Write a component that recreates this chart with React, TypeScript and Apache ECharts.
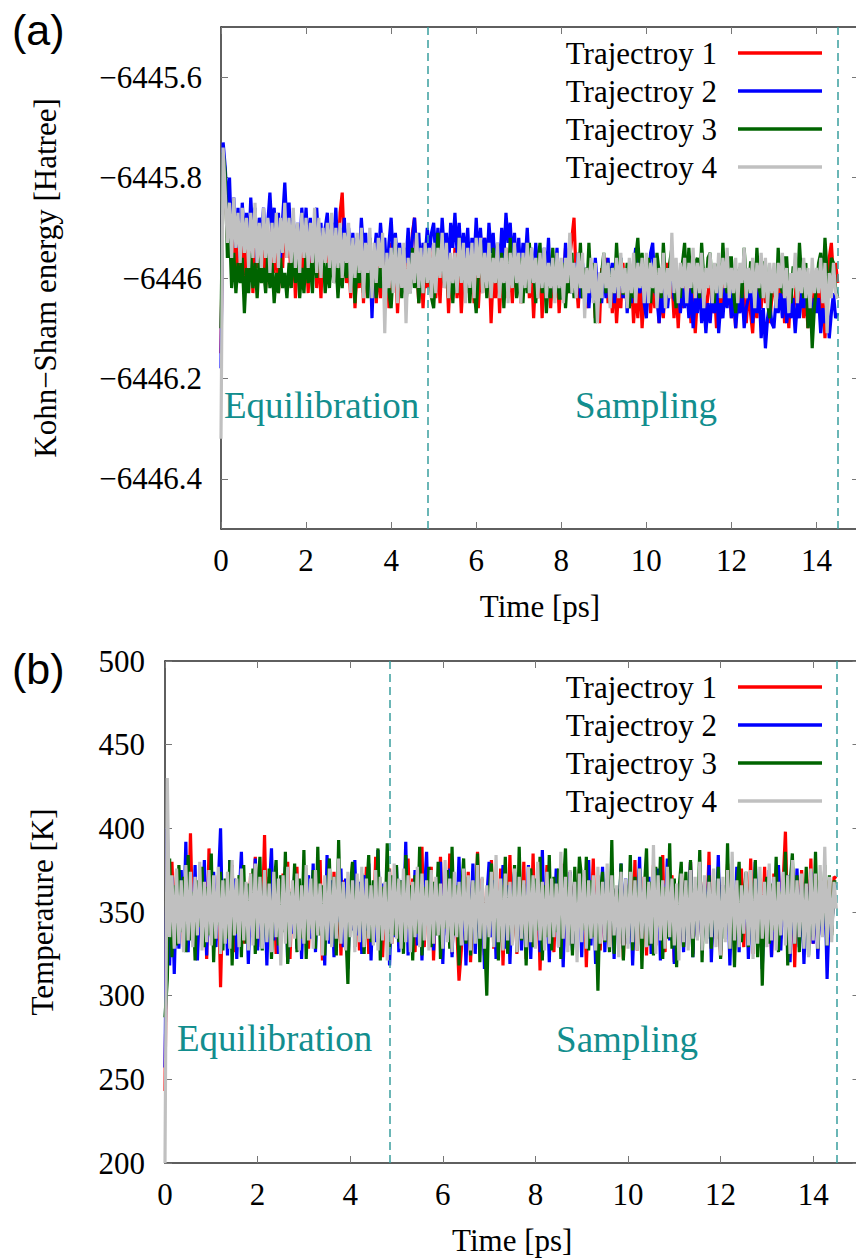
import React, { useEffect, useRef } from "react";
import * as echarts from "echarts";

// ---------------- data ----------------
const TIME_STEP = 0.05; // ps between plotted samples (0 ... 14.5 ps)
const SERIES_NAMES = ["Trajectroy 1", "Trajectroy 2", "Trajectroy 3", "Trajectroy 4"];
const SERIES_COLORS = ["#ff0000", "#0000ff", "#006400", "#c0c0c0"];
const PHASE_BOUNDARIES = [4.85, 14.5];
const TIME_TICKS = [0, 2, 4, 6, 8, 10, 12, 14];
const ENERGY_TICKS = [-6446.4, -6446.2, -6446, -6445.8, -6445.6];

const energy1 = [
  -6446.15, -6445.76, -6445.80, -6445.92, -6445.84, -6445.97, -6445.88, -6446.00, -6445.90, -6445.98,
  -6445.91, -6446.02, -6445.93, -6445.99, -6445.90, -6446.03, -6445.94, -6445.98, -6445.91, -6446.01,
  -6445.93, -6446.02, -6445.92, -6445.97, -6445.88, -6445.99, -6445.91, -6446.03, -6445.94, -6445.98,
  -6445.87, -6445.96, -6445.90, -6446.02, -6445.93, -6446.04, -6445.95, -6445.99, -6445.92, -6446.01,
  -6445.94, -6446.03, -6445.92, -6445.98, -6445.90, -6446.02, -6445.95, -6446.04, -6445.93, -6445.97,
  -6445.91, -6446.00, -6445.93, -6445.98, -6445.89, -6445.96, -6445.87, -6445.83, -6445.94, -6446.01,
  -6445.96, -6446.04, -6445.94, -6446.06, -6445.97, -6446.02, -6445.93, -6446.05, -6445.96, -6446.01,
  -6445.92, -6446.03, -6445.95, -6446.05, -6445.97, -6446.04, -6445.94, -6446.02, -6445.96, -6446.06,
  -6445.93, -6446.01, -6445.96, -6446.07, -6445.98, -6446.03, -6445.95, -6446.04, -6445.94, -6446.00,
  -6445.91, -6445.88, -6445.97, -6446.05, -6445.96, -6446.06, -6445.98, -6446.02, -6445.93, -6446.03,
  -6445.95, -6446.04, -6445.97, -6446.05, -6445.94, -6446.02, -6445.96, -6446.07, -6445.98, -6446.03,
  -6445.94, -6446.04, -6445.97, -6446.07, -6445.99, -6446.03, -6445.93, -6446.02, -6445.96, -6446.05,
  -6445.97, -6446.06, -6445.98, -6446.03, -6445.92, -6446.01, -6445.96, -6446.09, -6445.99, -6446.04,
  -6445.95, -6446.07, -6445.98, -6446.03, -6445.94, -6446.04, -6445.97, -6446.05, -6445.96, -6446.02,
  -6445.95, -6446.05, -6445.97, -6446.02, -6445.93, -6446.04, -6445.98, -6446.08, -6445.99, -6446.04,
  -6445.96, -6446.08, -6445.98, -6446.03, -6445.95, -6446.06, -6445.99, -6446.04, -6445.96, -6446.07,
  -6445.99, -6446.04, -6445.94, -6446.03, -6445.96, -6445.92, -6445.88, -6446.00, -6446.06, -6445.97,
  -6446.04, -6445.98, -6446.06, -6445.97, -6446.03, -6445.99, -6446.08, -6446.01, -6446.09, -6445.98,
  -6446.02, -6445.96, -6446.05, -6445.98, -6446.07, -6446.00, -6446.09, -6446.02, -6446.06, -6445.97,
  -6446.04, -6445.98, -6446.06, -6446.00, -6446.09, -6446.02, -6446.08, -6445.99, -6446.10, -6446.03,
  -6446.05, -6445.98, -6446.07, -6446.01, -6446.06, -6445.99, -6446.09, -6446.03, -6446.08, -6446.00,
  -6445.97, -6446.04, -6446.00, -6446.08, -6446.02, -6446.10, -6446.01, -6446.06, -6445.98, -6446.05,
  -6446.02, -6446.09, -6446.03, -6446.11, -6446.04, -6445.99, -6446.06, -6446.01, -6446.08, -6446.03,
  -6445.99, -6446.07, -6446.02, -6446.10, -6446.04, -6446.08, -6446.00, -6445.97, -6446.05, -6446.02,
  -6446.08, -6446.03, -6446.10, -6446.01, -6446.06, -6445.98, -6446.04, -6446.09, -6446.02, -6446.07,
  -6446.11, -6446.03, -6446.08, -6446.01, -6446.06, -6445.99, -6446.05, -6446.02, -6446.09, -6446.04,
  -6446.00, -6446.06, -6445.98, -6446.04, -6446.01, -6446.09, -6446.03, -6446.10, -6446.02, -6446.07,
  -6446.04, -6445.98, -6446.06, -6446.01, -6446.08, -6446.03, -6446.10, -6446.04, -6446.07, -6446.02,
  -6446.05, -6445.99, -6446.08, -6446.04, -6446.12, -6446.03, -6445.96, -6445.93, -6446.00, -6445.97,
  -6446.01,
];
const energy2 = [
  -6446.18, -6445.73, -6445.78, -6445.86, -6445.80, -6445.93, -6445.84, -6445.94, -6445.86, -6445.96,
  -6445.85, -6445.93, -6445.87, -6445.95, -6445.84, -6445.92, -6445.86, -6445.97, -6445.88, -6445.93,
  -6445.86, -6445.95, -6445.89, -6445.83, -6445.91, -6445.86, -6445.94, -6445.87, -6445.96, -6445.88,
  -6445.81, -6445.90, -6445.85, -6445.94, -6445.88, -6445.97, -6445.89, -6445.95, -6445.86, -6445.93,
  -6445.86, -6445.95, -6445.88, -6445.97, -6445.90, -6445.86, -6445.94, -6445.89, -6445.98, -6445.90,
  -6445.87, -6445.95, -6445.89, -6445.93, -6445.86, -6445.96, -6445.90, -6445.94, -6445.88, -6445.97,
  -6445.90, -6445.98, -6445.91, -6445.99, -6445.92, -6445.96, -6445.88, -6445.95, -6445.91, -6445.99,
  -6445.94, -6446.08, -6445.96, -6445.91, -6445.97, -6445.89, -6445.95, -6445.92, -6446.00, -6445.93,
  -6445.88, -6445.96, -6445.91, -6445.98, -6445.93, -6446.00, -6445.94, -6445.97, -6445.90, -6445.98,
  -6445.92, -6445.88, -6445.96, -6445.91, -6445.99, -6445.93, -6445.96, -6445.90, -6445.95, -6445.91,
  -6445.89, -6445.96, -6445.90, -6445.97, -6445.88, -6445.95, -6445.91, -6445.98, -6445.89, -6445.94,
  -6445.87, -6445.95, -6445.89, -6445.97, -6445.91, -6445.96, -6445.90, -6445.99, -6445.92, -6445.97,
  -6445.88, -6445.96, -6445.90, -6445.97, -6445.92, -6445.98, -6445.89, -6445.95, -6445.91, -6445.99,
  -6445.93, -6445.98, -6445.90, -6445.96, -6445.87, -6445.93, -6445.89, -6445.97, -6445.91, -6445.99,
  -6445.92, -6446.00, -6445.93, -6445.97, -6445.90, -6445.98, -6445.94, -6446.01, -6445.93, -6445.99,
  -6445.95, -6446.02, -6445.94, -6446.00, -6445.92, -6446.03, -6445.96, -6446.01, -6445.94, -6446.03,
  -6445.97, -6446.02, -6445.93, -6446.01, -6445.96, -6446.03, -6445.97, -6446.00, -6445.95, -6446.04,
  -6445.97, -6446.03, -6445.98, -6446.06, -6446.00, -6446.04, -6445.96, -6446.02, -6445.99, -6446.05,
  -6445.98, -6446.04, -6445.96, -6446.02, -6445.97, -6446.05, -6445.99, -6446.03, -6445.96, -6446.04,
  -6445.99, -6446.07, -6446.00, -6446.05, -6445.98, -6445.94, -6446.01, -6446.03, -6445.97, -6446.05,
  -6446.08, -6446.01, -6445.95, -6445.93, -6446.02, -6446.04, -6446.09, -6446.03, -6446.07, -6446.00,
  -6446.06, -6446.01, -6445.98, -6446.04, -6446.05, -6446.00, -6446.07, -6446.02, -6446.06, -6446.01,
  -6446.08, -6446.02, -6446.10, -6446.04, -6446.07, -6446.01, -6446.09, -6446.04, -6446.11, -6446.05,
  -6446.09, -6446.03, -6446.07, -6446.00, -6446.11, -6446.05, -6446.08, -6446.02, -6446.06, -6446.00,
  -6446.08, -6446.03, -6446.10, -6446.05, -6446.07, -6446.02, -6446.10, -6446.06, -6446.04, -6446.01,
  -6446.09, -6446.04, -6446.07, -6446.02, -6446.12, -6446.06, -6446.14, -6446.08, -6446.05, -6446.09,
  -6446.10, -6446.04, -6446.07, -6446.03, -6446.08, -6446.02, -6446.09, -6446.05, -6446.08, -6446.04,
  -6446.11, -6446.05, -6446.08, -6446.03, -6446.06, -6446.00, -6446.08, -6446.03, -6446.10, -6446.04,
  -6446.07, -6446.04, -6446.11, -6446.06, -6446.09, -6446.05, -6446.12, -6446.07, -6446.03, -6446.08,
  -6446.07,
];
const energy3 = [
  -6446.10, -6445.75, -6445.79, -6445.96, -6445.90, -6446.02, -6445.95, -6446.03, -6445.97, -6446.01,
  -6445.96, -6446.07, -6445.98, -6446.03, -6445.95, -6446.02, -6445.97, -6446.04, -6445.96, -6446.01,
  -6445.98, -6446.03, -6445.95, -6446.02, -6445.97, -6446.05, -6445.99, -6446.03, -6445.96, -6446.02,
  -6445.99, -6446.04, -6445.97, -6446.02, -6445.94, -6446.01, -6445.96, -6446.04, -6445.98, -6446.03,
  -6445.95, -6446.01, -6445.97, -6446.03, -6445.93, -6446.00, -6445.91, -6445.98, -6445.95, -6446.03,
  -6445.97, -6446.02, -6445.94, -6446.01, -6445.96, -6446.04, -6445.97, -6446.02, -6445.95, -6446.00,
  -6445.93, -6446.02, -6445.96, -6446.05, -6445.97, -6446.01, -6445.94, -6446.03, -6445.96, -6446.04,
  -6445.92, -6446.01, -6445.95, -6446.04, -6445.98, -6446.02, -6445.96, -6446.05, -6445.99, -6446.03,
  -6446.06, -6445.98, -6445.93, -6446.02, -6445.96, -6446.04, -6445.97, -6446.05, -6445.99, -6446.03,
  -6445.94, -6446.02, -6445.97, -6446.05, -6445.98, -6446.03, -6445.95, -6446.01, -6445.97, -6446.04,
  -6446.06, -6445.98, -6445.91, -6445.99, -6445.93, -6446.01, -6445.96, -6446.04, -6445.97, -6446.05,
  -6445.98, -6446.03, -6445.92, -6446.00, -6445.96, -6446.03, -6445.97, -6446.05, -6445.98, -6446.02,
  -6446.07, -6445.99, -6445.93, -6446.02, -6445.96, -6446.04, -6445.97, -6446.02, -6445.94, -6446.01,
  -6445.96, -6446.02, -6445.95, -6446.06, -6445.98, -6446.03, -6445.92, -6446.01, -6445.97, -6446.04,
  -6446.01, -6445.96, -6446.05, -6445.97, -6446.03, -6445.93, -6446.01, -6445.98, -6446.05, -6445.97,
  -6445.93, -6446.03, -6445.98, -6446.07, -6445.99, -6446.04, -6445.94, -6446.02, -6445.97, -6446.04,
  -6446.04, -6445.97, -6446.06, -6445.99, -6446.03, -6445.95, -6446.04, -6445.98, -6446.02, -6445.93,
  -6446.04, -6445.98, -6446.03, -6445.93, -6446.02, -6445.97, -6446.09, -6446.01, -6446.05, -6445.99,
  -6445.95, -6446.03, -6445.97, -6446.05, -6445.98, -6446.03, -6445.93, -6446.01, -6445.96, -6446.03,
  -6446.03, -6445.97, -6446.06, -6445.99, -6446.04, -6445.96, -6445.92, -6446.00, -6445.95, -6446.02,
  -6446.02, -6445.96, -6446.05, -6445.98, -6446.03, -6445.95, -6445.99, -6446.04, -6445.93, -6446.01,
  -6446.03, -6445.97, -6445.94, -6446.01, -6446.06, -6445.99, -6446.04, -6445.97, -6445.93, -6446.02,
  -6445.94, -6446.01, -6446.03, -6445.97, -6445.96, -6446.04, -6445.93, -6446.00, -6446.02, -6445.96,
  -6445.95, -6446.03, -6446.05, -6445.98, -6445.97, -6446.04, -6445.93, -6446.01, -6446.03, -6445.96,
  -6445.96, -6446.03, -6446.07, -6445.99, -6445.98, -6446.04, -6445.94, -6446.01, -6446.03, -6445.97,
  -6445.97, -6446.04, -6445.94, -6446.02, -6446.04, -6445.97, -6445.97, -6446.05, -6446.08, -6446.00,
  -6445.99, -6446.05, -6445.94, -6446.01, -6446.03, -6445.96, -6445.96, -6446.04, -6446.05, -6445.98,
  -6445.98, -6446.04, -6445.93, -6446.00, -6446.04, -6445.97, -6446.10, -6446.03, -6446.14, -6446.06,
  -6446.02, -6445.97, -6445.95, -6446.02, -6445.92, -6445.99, -6446.03, -6445.96, -6445.97, -6446.02,
  -6446.04,
];
const energy4 = [
  -6446.32, -6445.74, -6445.83, -6445.93, -6445.85, -6445.96, -6445.84, -6445.94, -6445.87, -6445.97,
  -6445.86, -6445.95, -6445.88, -6445.98, -6445.87, -6445.96, -6445.85, -6445.97, -6445.89, -6445.98,
  -6445.86, -6445.96, -6445.88, -6445.99, -6445.89, -6445.97, -6445.87, -6445.98, -6445.88, -6445.95,
  -6445.85, -6445.96, -6445.88, -6445.97, -6445.86, -6445.98, -6445.89, -6445.99, -6445.87, -6445.96,
  -6445.88, -6445.98, -6445.89, -6445.97, -6445.86, -6445.99, -6445.88, -6446.00, -6445.90, -6445.97,
  -6445.89, -6445.98, -6445.87, -6446.01, -6445.90, -6445.98, -6445.89, -6446.00, -6445.91, -6445.97,
  -6445.89, -6446.03, -6445.92, -6446.00, -6445.91, -6445.99, -6445.90, -6446.04, -6445.93, -6445.99,
  -6445.90, -6446.04, -6445.93, -6446.01, -6445.92, -6445.98, -6445.91, -6446.11, -6445.95, -6446.02,
  -6445.94, -6446.03, -6445.92, -6446.05, -6445.94, -6446.02, -6445.93, -6446.09, -6445.96, -6446.03,
  -6445.95, -6446.01, -6445.91, -6446.02, -6445.94, -6446.03, -6445.93, -6446.01, -6445.94, -6446.04,
  -6445.93, -6446.03, -6445.94, -6446.00, -6445.91, -6446.02, -6445.93, -6446.04, -6445.95, -6446.01,
  -6445.95, -6446.03, -6445.92, -6446.01, -6445.93, -6446.05, -6445.94, -6446.02, -6445.93, -6446.04,
  -6445.92, -6446.00, -6445.92, -6446.03, -6445.95, -6446.02, -6445.93, -6446.04, -6445.96, -6446.01,
  -6445.93, -6446.04, -6445.96, -6446.01, -6445.94, -6446.05, -6445.95, -6446.02, -6445.93, -6446.01,
  -6445.95, -6446.05, -6445.95, -6446.02, -6445.93, -6446.03, -6445.94, -6446.01, -6445.96, -6446.04,
  -6445.95, -6446.02, -6445.94, -6446.04, -6445.97, -6446.02, -6445.96, -6446.05, -6445.95, -6446.02,
  -6445.96, -6446.05, -6445.96, -6446.01, -6445.91, -6446.03, -6445.97, -6446.04, -6445.95, -6446.02,
  -6445.95, -6446.08, -6445.98, -6446.03, -6445.96, -6446.05, -6445.97, -6446.09, -6445.99, -6446.04,
  -6445.95, -6446.02, -6445.97, -6446.06, -6445.98, -6446.03, -6445.96, -6446.04, -6445.95, -6446.03,
  -6445.98, -6446.06, -6445.96, -6446.03, -6445.95, -6446.05, -6445.97, -6446.02, -6445.96, -6446.05,
  -6445.95, -6446.05, -6445.97, -6446.02, -6445.96, -6446.06, -6445.98, -6446.03, -6445.95, -6446.06,
  -6445.98, -6446.04, -6445.91, -6446.03, -6445.96, -6446.05, -6445.97, -6446.02, -6445.96, -6446.05,
  -6445.97, -6446.02, -6445.94, -6446.04, -6445.97, -6446.03, -6445.95, -6446.06, -6445.98, -6446.02,
  -6445.95, -6446.05, -6445.97, -6446.03, -6445.95, -6446.04, -6445.96, -6446.02, -6445.94, -6446.04,
  -6445.98, -6446.03, -6445.96, -6446.05, -6445.97, -6446.01, -6445.94, -6446.04, -6445.98, -6446.03,
  -6445.96, -6446.06, -6445.97, -6446.02, -6445.95, -6446.04, -6445.96, -6446.06, -6445.97, -6446.03,
  -6445.97, -6446.06, -6445.97, -6446.02, -6445.95, -6446.04, -6445.98, -6446.07, -6445.99, -6446.02,
  -6445.95, -6446.05, -6445.98, -6446.03, -6445.96, -6446.04, -6445.98, -6446.06, -6445.96, -6446.03,
  -6445.98, -6446.03, -6445.96, -6446.05, -6445.97, -6446.11, -6445.99, -6446.04, -6445.97, -6446.03,
  -6446.04,
];

const temp1 = [
  243, 382, 346, 380, 338, 375, 341, 369, 329, 372,
  336, 397, 341, 371, 327, 366, 338, 374, 322, 388,
  341, 367, 333, 372, 305, 361, 339, 369, 334, 378,
  326, 365, 342, 378, 331, 361, 340, 373, 335, 383,
  329, 366, 344, 396, 333, 371, 338, 367, 325, 359,
  338, 373, 344, 380, 322, 364, 336, 377, 329, 364,
  344, 376, 328, 368, 336, 362, 339, 381, 321, 362,
  342, 370, 334, 374, 330, 366, 324, 369, 336, 357,
  339, 379, 336, 369, 327, 361, 341, 377, 325, 365,
  333, 383, 339, 368, 323, 359, 342, 376, 331, 364,
  337, 364, 339, 352, 341, 382, 337, 370, 326, 362,
  343, 389, 329, 366, 336, 377, 321, 360, 345, 383,
  330, 367, 338, 385, 325, 363, 342, 309, 327, 368,
  335, 374, 320, 358, 341, 386, 334, 370, 324, 362,
  344, 381, 328, 367, 336, 376, 318, 359, 340, 384,
  332, 371, 325, 364, 341, 380, 322, 362, 337, 385,
  329, 370, 315, 358, 343, 378, 333, 367, 326, 361,
  345, 379, 323, 366, 338, 374, 330, 369, 338, 376,
  335, 369, 317, 360, 344, 382, 331, 372, 327, 365,
  339, 370, 328, 375, 336, 363, 331, 376, 322, 367,
  340, 373, 333, 381, 327, 362, 338, 371, 324, 366,
  343, 378, 330, 369, 334, 384, 326, 362, 339, 372,
  320, 365, 341, 376, 329, 367, 337, 380, 325, 361,
  336, 372, 331, 368, 342, 386, 328, 363, 334, 374,
  323, 366, 340, 379, 332, 369, 327, 361, 343, 376,
  329, 371, 336, 382, 325, 364, 339, 370, 331, 377,
  338, 368, 324, 373, 345, 376, 334, 367, 398, 341,
  340, 379, 317, 363, 336, 375, 330, 366, 342, 382,
  331, 372, 327, 365, 339, 374, 333, 369, 338, 371,
  370,
];
const temp2 = [
  257, 400, 318, 371, 313, 364, 328, 375, 337, 392,
  326, 368, 332, 378, 321, 363, 340, 381, 324, 371,
  335, 374, 329, 366, 400, 331, 363, 324, 381, 339,
  370, 322, 358, 386, 335, 366, 319, 360, 341, 382,
  327, 371, 336, 367, 318, 362, 388, 333, 369, 325,
  364, 343, 377, 320, 359, 337, 374, 328, 366, 322,
  361, 342, 372, 334, 379, 326, 368, 340, 357, 318,
  384, 331, 369, 323, 363, 344, 376, 329, 370, 316,
  360, 339, 381, 336, 368, 325, 372, 339, 379, 321,
  364, 332, 387, 328, 367, 341, 374, 318, 361, 335,
  377, 326, 369, 343, 392, 324, 362, 337, 375, 330,
  367, 321, 359, 386, 334, 370, 327, 364, 342, 380,
  319, 361, 336, 376, 323, 368, 345, 383, 330, 366,
  318, 360, 339, 379, 325, 371, 333, 364, 316, 358,
  380, 335, 369, 322, 362, 340, 378, 328, 366, 319,
  359, 374, 333, 368, 327, 361, 344, 378, 322, 365,
  338, 371, 326, 387, 331, 365, 320, 362, 345, 376,
  329, 368, 317, 361, 340, 374, 327, 366, 335, 370,
  323, 363, 347, 381, 330, 369, 319, 360, 338, 377,
  326, 366, 341, 373, 322, 364, 336, 379, 328, 370,
  331, 367, 318, 358, 344, 383, 329, 364, 337, 371,
  325, 362, 340, 376, 321, 367, 346, 382, 333, 369,
  319, 361, 338, 374, 326, 365, 342, 380, 323, 362,
  335, 372, 328, 367, 340, 378, 320, 360, 337, 384,
  327, 366, 343, 371, 318, 359, 334, 377, 326, 364,
  339, 373, 322, 362, 345, 380, 329, 368, 316, 358,
  336, 375, 323, 369, 340, 378, 327, 364, 341, 372,
  320, 361, 334, 376, 329, 367, 319, 359, 343, 374,
  331, 368, 322, 363, 336, 371, 310, 352, 339, 365,
  365,
];
const temp3 = [
  287, 310, 382, 323, 366, 330, 378, 338, 371, 326,
  384, 333, 362, 321, 369, 341, 377, 329, 365, 336,
  385, 320, 359, 342, 374, 327, 370, 334, 381, 318,
  363, 337, 372, 323, 378, 331, 367, 343, 376, 325,
  361, 383, 327, 368, 335, 376, 322, 363, 381, 330,
  372, 338, 386, 319, 362, 345, 379, 326, 370, 334,
  387, 322, 360, 340, 375, 328, 389, 336, 366, 324,
  358, 382, 331, 371, 324, 393, 338, 367, 343, 307,
  364, 380, 329, 366, 337, 373, 325, 360, 384, 332,
  369, 341, 388, 321, 365, 342, 391, 328, 372, 336,
  378, 332, 369, 325, 384, 340, 366, 321, 372, 337,
  389, 324, 365, 343, 377, 329, 368, 336, 380, 322,
  360, 340, 375, 328, 389, 336, 366, 318, 358, 382,
  331, 371, 324, 368, 343, 385, 320, 363, 337, 300,
  361, 379, 334, 374, 321, 366, 346, 383, 325, 360,
  337, 378, 326, 389, 333, 367, 318, 361, 376, 329,
  370, 339, 383, 321, 366, 335, 384, 327, 371, 338,
  376, 322, 362, 388, 330, 368, 324, 377, 341, 383,
  370, 339, 383, 327, 369, 335, 360, 303, 360, 374,
  332, 369, 326, 393, 325, 364, 344, 379, 321, 366,
  335, 384, 327, 371, 338, 376, 316, 362, 388, 330,
  368, 324, 377, 341, 383, 322, 365, 334, 391, 328,
  370, 317, 363, 380, 329, 374, 336, 381, 323, 364,
  343, 387, 320, 366, 334, 372, 328, 369, 339, 377,
  322, 365, 334, 391, 328, 370, 317, 363, 380, 332,
  358, 374, 329, 369, 336, 381, 323, 364, 306, 358,
  371, 331, 367, 339, 383, 326, 362, 345, 386, 318,
  366, 385, 331, 372, 326, 368, 338, 377, 324, 370,
  335, 386, 328, 369, 341, 378, 330, 372, 336, 368,
  368,
];
const temp4 = [
  200, 430, 335, 372, 328, 376, 331, 369, 326, 378,
  333, 374, 329, 371, 336, 380, 327, 368, 332, 375,
  330, 372, 334, 377, 325, 369, 331, 374, 328, 381,
  336, 370, 329, 376, 333, 368, 327, 373, 330, 379,
  334, 371, 328, 375, 332, 367, 326, 374, 335, 370,
  318, 372, 331, 377, 329, 369, 334, 373, 327, 366,
  331, 378, 333, 370, 328, 375, 336, 367, 324, 372,
  333, 376, 329, 371, 334, 382, 331, 368, 327, 374,
  335, 369, 326, 373, 332, 377, 329, 370, 334, 366,
  330, 375, 327, 371, 333, 368, 321, 374, 331, 379,
  334, 370, 328, 376, 332, 372, 326, 368, 335, 377,
  329, 373, 333, 369, 327, 375, 331, 371, 336, 367,
  328, 381, 332, 370, 326, 374, 335, 368, 330, 376,
  333, 372, 327, 369, 331, 378, 334, 371, 328, 366,
  335, 374, 329, 384, 332, 370, 327, 373, 333, 368,
  330, 376, 326, 371, 334, 369, 329, 377, 332, 372,
  328, 380, 333, 368, 327, 374, 331, 370, 335, 367,
  329, 386, 334, 371, 326, 375, 331, 368, 320, 373,
  332, 375, 328, 369, 334, 372, 327, 377, 331, 368,
  333, 379, 329, 372, 336, 366, 323, 374, 330, 370,
  328, 374, 332, 369, 327, 376, 334, 371, 329, 368,
  331, 390, 325, 372, 333, 369, 328, 377, 335, 370,
  330, 367, 321, 373, 332, 369, 327, 375, 334, 371,
  333, 380, 327, 372, 331, 368, 335, 376, 329, 370,
  324, 371, 332, 375, 328, 386, 333, 369, 329, 366,
  337, 374, 330, 375, 322, 370, 331, 377, 334, 368,
  329, 379, 333, 371, 327, 368, 336, 374, 330, 372,
  325, 381, 331, 369, 335, 373, 328, 367, 323, 376,
  333, 373, 328, 378, 335, 389, 330, 371, 332, 368,
  352,
];

const ENERGY_SETS = [energy1, energy2, energy3, energy4];
const TEMP_SETS = [temp1, temp2, temp3, temp4];

// ---------------- styling ----------------
const SERIF = "Liberation Serif";
const FS = 31;
const TEAL = "#128e8e";
const DASH_COLOR = "#3a9e9e";
const AXIS_COLOR = "#2a2a2a";
const TICK_COLOR = "#777777";
const LINE_W = 3.2;
const CHART_W = 862; // slightly wider than the window: right frame sits just off-page
const CHART_H = 1259;

const fmtEnergy = (v: number) => String(Math.round(v * 10) / 10).replace("-", "\u2212");

function App() {
  const ref = useRef<HTMLDivElement>(null);

  useEffect(() => {
    document.body.style.margin = "0";
    document.body.style.overflow = "hidden";
    document.documentElement.style.overflow = "hidden";
    if (!ref.current) return;
    const chart = echarts.init(ref.current, undefined, { renderer: "svg" });

    const labelStyle = { fontFamily: SERIF, fontSize: FS, color: "#000" };
    const tick = (customValues?: number[]) => ({
      inside: true,
      length: 7,
      ...(customValues ? { customValues } : {}),
      lineStyle: { color: TICK_COLOR, width: 1 },
    });
    const axisLine = { show: true, onZero: false, lineStyle: { color: AXIS_COLOR, width: 1.5 } };

    const bottomX = (gridIndex: number, nameGap: number) => ({
      type: "value",
      gridIndex,
      position: "bottom",
      min: 0,
      max: 15,
      name: "Time [ps]",
      nameLocation: "middle",
      nameGap,
      nameTextStyle: labelStyle,
      axisLine,
      axisTick: tick(TIME_TICKS),
      axisLabel: { ...labelStyle, margin: 16, customValues: TIME_TICKS, formatter: (v: number) => String(v) },
      splitLine: { show: false },
    });
    const topX = (gridIndex: number) => ({
      type: "value",
      gridIndex,
      position: "top",
      min: 0,
      max: 15,
      axisLine,
      axisTick: tick(TIME_TICKS),
      axisLabel: { show: false },
      splitLine: { show: false },
    });

    const yAxes = [
      {
        type: "value",
        gridIndex: 0,
        position: "left",
        min: -6446.5,
        max: -6445.5,
        name: "Kohn\u2212Sham energy [Hatree]",
        nameLocation: "middle",
        nameGap: 160,
        nameTextStyle: labelStyle,
        axisLine,
        splitLine: { show: false },
        axisTick: tick(ENERGY_TICKS),
        axisLabel: { ...labelStyle, margin: 19, customValues: ENERGY_TICKS, formatter: fmtEnergy },
      },
      {
        type: "value",
        gridIndex: 0,
        position: "right",
        min: -6446.5,
        max: -6445.5,
        axisLine,
        splitLine: { show: false },
        axisTick: tick(ENERGY_TICKS),
        axisLabel: { show: false },
      },
      {
        type: "value",
        gridIndex: 1,
        position: "left",
        min: 200,
        max: 500,
        interval: 50,
        name: "Temperature [K]",
        nameLocation: "middle",
        nameGap: 107,
        nameTextStyle: labelStyle,
        axisLine,
        splitLine: { show: false },
        axisTick: tick(),
        axisLabel: { ...labelStyle, margin: 20 },
      },
      {
        type: "value",
        gridIndex: 1,
        position: "right",
        min: 200,
        max: 500,
        interval: 50,
        axisLine,
        splitLine: { show: false },
        axisTick: tick(),
        axisLabel: { show: false },
      },
    ];

    const markLine = {
      silent: true,
      symbol: ["none", "none"],
      label: { show: false },
      lineStyle: { color: DASH_COLOR, type: [8, 5], width: 1.5 },
      data: PHASE_BOUNDARIES.map((x) => ({ xAxis: x })),
    };

    const makeSeries = (sets: number[][], axisIndex: number) =>
      sets.map((vals, k) => ({
        type: "line",
        name: SERIES_NAMES[k],
        xAxisIndex: axisIndex,
        yAxisIndex: axisIndex,
        data: vals.map((v, i) => [Math.round(i * TIME_STEP * 1000) / 1000, v]),
        showSymbol: false,
        symbol: "none",
        silent: true,
        color: SERIES_COLORS[k],
        lineStyle: { color: SERIES_COLORS[k], width: LINE_W, join: "miter", miterLimit: 2 },
        itemStyle: { color: SERIES_COLORS[k] },
        markLine: k === 0 ? markLine : undefined,
        z: 2 + k,
      }));

    const legendBase = {
      orient: "vertical",
      align: "right",
      right: 40,
      padding: 0,
      itemGap: 0,
      itemWidth: 84,
      itemHeight: 3.4,
      icon: "rect",
      selectedMode: false,
      data: SERIES_NAMES,
      textStyle: { fontFamily: SERIF, fontSize: FS, color: "#000", lineHeight: 38, padding: [0, 16, 0, 0] },
    };

    const annotation = (text: string, x: number, y: number, align: string) => ({
      type: "text",
      x,
      y,
      silent: true,
      style: {
        text,
        fill: TEAL,
        font: `37px "${SERIF}"`,
        fontFamily: SERIF,
        fontSize: 37,
        align,
        textAlign: align,
        verticalAlign: "middle",
        textVerticalAlign: "middle",
      },
    });
    const panelLabel = (text: string, y: number) => ({
      type: "text",
      x: 12,
      y,
      silent: true,
      style: {
        text,
        fill: "#000",
        font: `43px "Liberation Sans"`,
        fontFamily: "Liberation Sans",
        fontSize: 43,
        align: "left",
        textAlign: "left",
        verticalAlign: "top",
        textVerticalAlign: "top",
      },
    });

    chart.setOption({
      animation: false,
      backgroundColor: "#ffffff",
      grid: [
        { left: 221, top: 27, right: 3, bottom: 730, containLabel: false },
        { left: 165, top: 661, right: 2.5, bottom: 96, containLabel: false },
      ],
      xAxis: [bottomX(0, 62), topX(0), bottomX(1, 62), topX(1)],
      yAxis: yAxes,
      legend: [
        { ...legendBase, top: 34 },
        { ...legendBase, top: 668 },
      ],
      series: [...makeSeries(ENERGY_SETS, 0), ...makeSeries(TEMP_SETS, 2)],
      graphic: [
        panelLabel("(a)", 8),
        panelLabel("(b)", 647),
        annotation("Equilibration", 224, 405, "left"),
        annotation("Sampling", 646, 405, "center"),
        annotation("Equilibration", 177, 1038, "left"),
        annotation("Sampling", 627, 1039, "center"),
      ],
    });

    return () => chart.dispose();
  }, []);

  return <div ref={ref} style={{ width: CHART_W, height: CHART_H }} />;
}

export default App;
